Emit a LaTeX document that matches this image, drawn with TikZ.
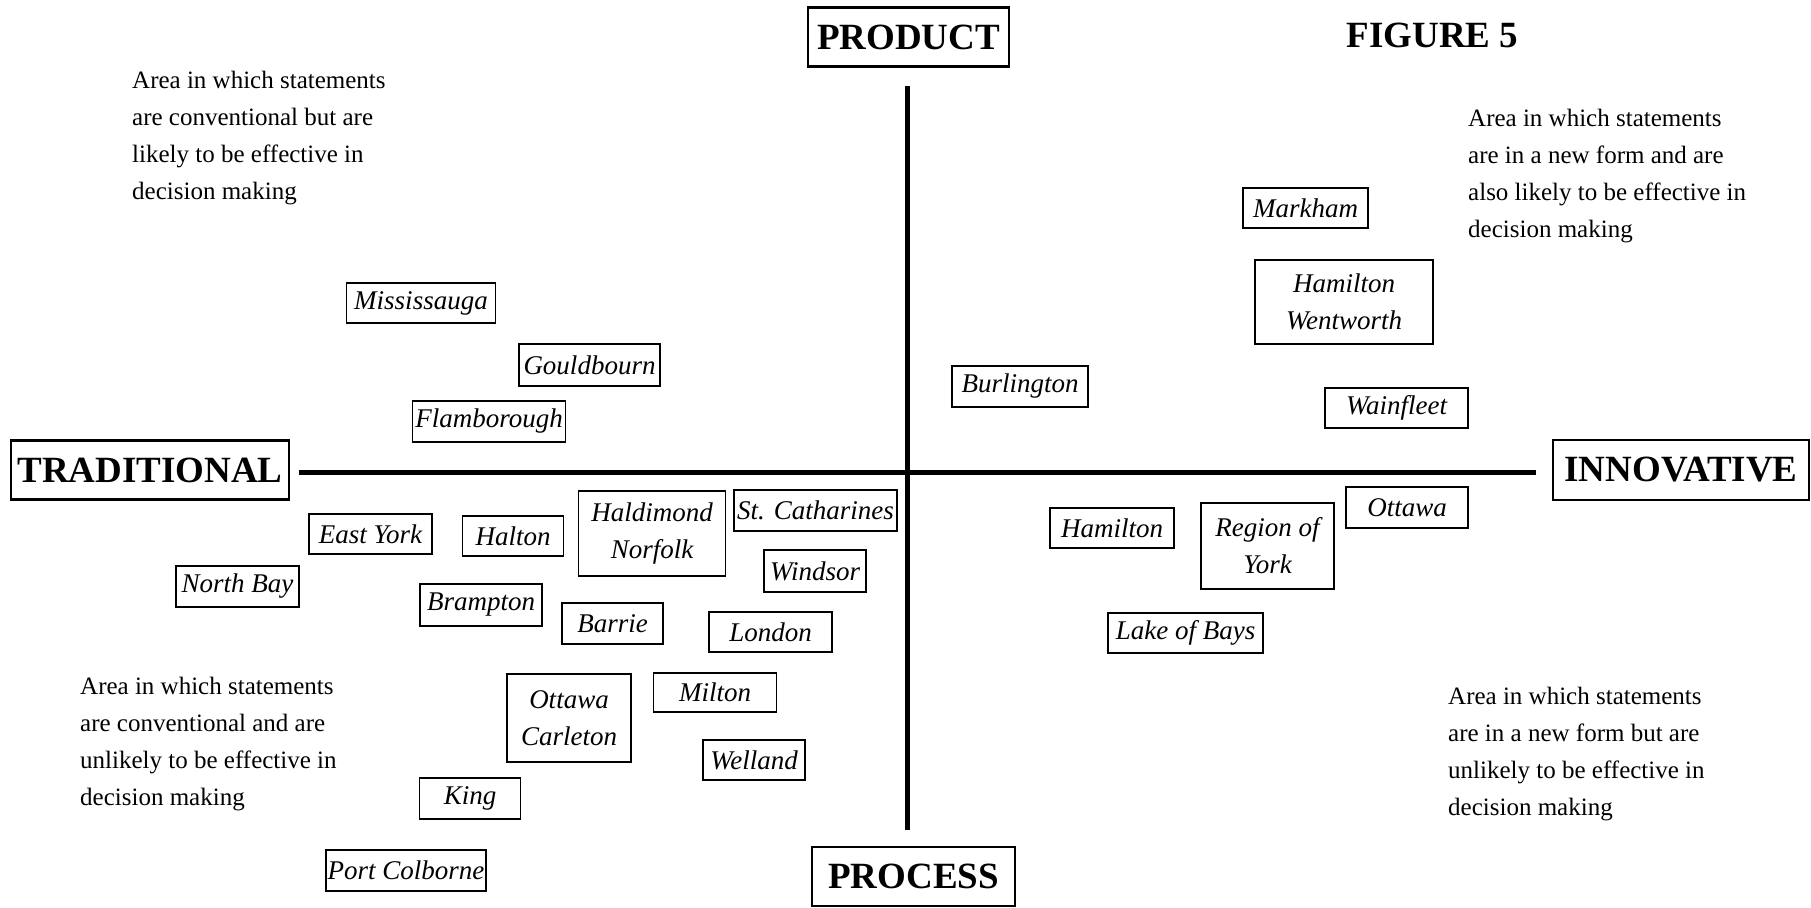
\documentclass[tikz,border=0pt]{standalone}
\usepackage{fontspec}
\setmainfont{Liberation Serif}
\begin{document}
\begin{tikzpicture}[x=1pt,y=-1pt,
  town/.style={draw, line width=1.3pt, inner sep=0pt, align=center,
    font=\fontsize{27}{37}\selectfont\itshape},
  axislabel/.style={draw, line width=2.4pt, inner sep=0pt,
    font=\fontsize{37}{40}\selectfont\bfseries},
  area/.style={anchor=north west, inner sep=0pt, align=left,
    font=\fontsize{25}{37}\selectfont},
  axisline/.style={line width=5pt}]
\path[use as bounding box] (0,0) rectangle (1811,907);

% axis labels
\node[axislabel, minimum width=201, minimum height=59] (product) at (908.5,37) {PRODUCT};
\node[axislabel, minimum width=203, minimum height=59] (process) at (913.5,876.5) {PROCESS};
\node[axislabel, minimum width=278, minimum height=59] (traditional) at (150,470) {TRADITIONAL};
\node[axislabel, minimum width=256, minimum height=60] (innovative) at (1681,470) {INNOVATIVE};
\node[inner sep=0pt, font=\fontsize{37}{40}\selectfont\bfseries] (figure) at (1432.5,35) {FIGURE 5};

% axes
\coordinate (vtop) at (907,86);
\coordinate (vbot) at (907,830);
\coordinate (hleft) at (299,472);
\coordinate (hright) at (1536,472);
\draw[axisline] (vtop) -- (vbot);
\draw[axisline] (hleft) -- (hright);

% quadrant descriptions
\node[area] (tl) at (132,71) {Area in which statements\\are conventional but are\\likely to be effective in\\decision making};
\node[area] (tr) at (1468,109) {Area in which statements\\are in a new form and are\\also likely to be effective in\\decision making};
\node[area] (bl) at (80,677) {Area in which statements\\are conventional and are\\unlikely to be effective in\\decision making};
\node[area] (br) at (1448,687) {Area in which statements\\are in a new form but are\\unlikely to be effective in\\decision making};

% traditional / product
\node[town, minimum width=149, minimum height=40] (mississauga) at (421,303) {Mississauga};
\node[town, minimum width=141, minimum height=42] (gouldbourn) at (589.5,365) {Gouldbourn};
\node[town, minimum width=153, minimum height=41] (flamborough) at (489,421.5) {Flamborough};

% innovative / product
\node[town, minimum width=136, minimum height=41] (burlington) at (1020,386.5) {Burlington};
\node[town, minimum width=125, minimum height=40] (markham) at (1305.5,208) {Markham};
\node[town, minimum width=178, minimum height=84] (hamwent) at (1344,302) {Hamilton\\Wentworth};
\node[town, minimum width=143, minimum height=40] (wainfleet) at (1396.5,408) {Wainfleet};

% traditional / process
\node[town, minimum width=123, minimum height=40] (eastyork) at (370.5,534) {East York};
\node[town, minimum width=101, minimum height=40] (halton) at (513,536) {Halton};
\node[town, minimum width=147, minimum height=85] (haldnorf) at (652,533.5) {Haldimond\\Norfolk};
\node[town, minimum width=163, minimum height=41] (stcath) at (815.5,510.5) {St. Catharines};
\node[town, minimum width=123, minimum height=41] (northbay) at (237.5,586.5) {North Bay};
\node[town, minimum width=102, minimum height=42] (windsor) at (815,571) {Windsor};
\node[town, minimum width=122, minimum height=42] (brampton) at (481,605) {Brampton};
\node[town, minimum width=101, minimum height=41] (barrie) at (612.5,623.5) {Barrie};
\node[town, minimum width=123, minimum height=40] (london) at (770.5,632) {London};
\node[town, minimum width=124, minimum height=88] (ottcarl) at (569,718) {Ottawa\\Carleton};
\node[town, minimum width=123, minimum height=39] (milton) at (715,692.5) {Milton};
\node[town, minimum width=102, minimum height=40] (welland) at (754,760) {Welland};
\node[town, minimum width=101, minimum height=41] (king) at (470,798.5) {King};
\node[town, minimum width=160, minimum height=41] (portcol) at (406,870.5) {Port Colborne};

% innovative / process
\node[town, minimum width=124, minimum height=40] (hamilton) at (1112,528) {Hamilton};
\node[town, minimum width=133, minimum height=86] (regyork) at (1267.5,546) {Region of\\York};
\node[town, minimum width=122, minimum height=41] (ottawa) at (1407,507.5) {Ottawa};
\node[town, minimum width=155, minimum height=40] (lakebays) at (1185.5,633) {Lake of Bays};
\end{tikzpicture}
\end{document}
